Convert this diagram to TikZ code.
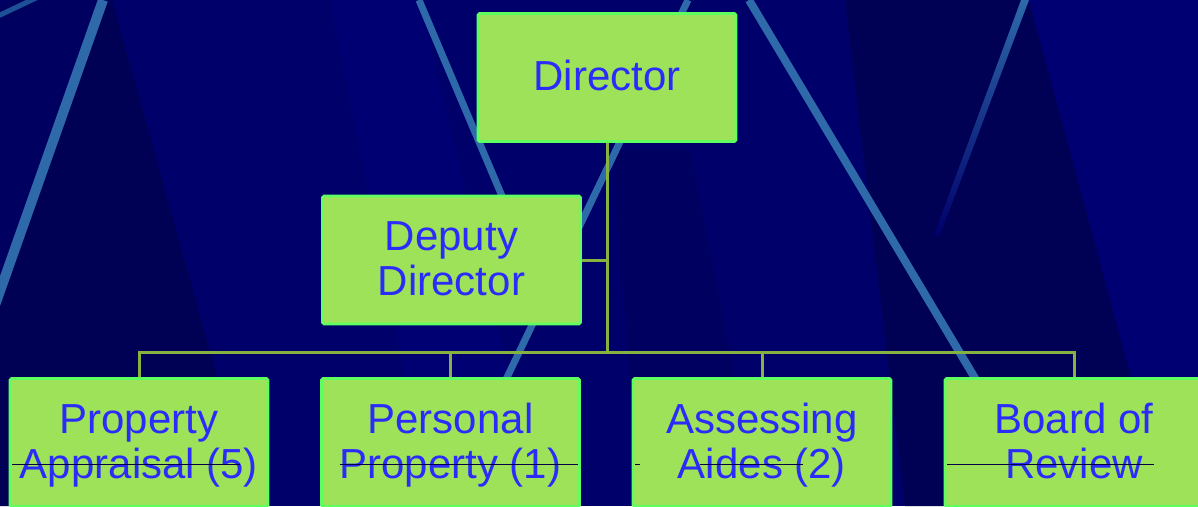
\documentclass[tikz,border=0pt]{standalone}
\usepackage{fontspec}
\setmainfont{Liberation Sans}
\definecolor{bgnavy}{RGB}{0,0,106}
\definecolor{bgdark}{RGB}{0,0,84}
\definecolor{bgmid}{RGB}{0,0,96}
\definecolor{bglight}{RGB}{0,0,114}
\definecolor{stripe}{RGB}{46,106,170}
\definecolor{stripefaint}{RGB}{30,80,150}
\definecolor{boxfill}{RGB}{158,226,90}
\definecolor{boxline}{RGB}{96,255,96}
\definecolor{txtblue}{RGB}{44,44,250}
\definecolor{connline}{RGB}{134,178,64}
\definecolor{strikeline}{RGB}{0,0,70}
\newcommand\tstrut{\rule{0pt}{35pt}}
\newcommand\bstrut{\rule[-9pt]{0pt}{9pt}}
\pgfdeclarelayer{art}
\pgfdeclarelayer{links}
\pgfdeclarelayer{over}
\pgfsetlayers{art,links,main,over}
\begin{document}
\begin{tikzpicture}[x=1pt,y=-1pt,
  orgbox/.style={draw=boxline, line width=2.8pt, fill=boxfill, text=txtblue,
    minimum width=258pt, minimum height=128pt, inner sep=0pt, align=center,
    font=\fontsize{42}{45}\selectfont, rounded corners=1.5pt},
  connector/.style={draw=connline, line width=3pt},
  stripeline/.style={draw=stripe, line width=7pt},
  strike/.style={draw=strikeline, line width=1pt}]
\useasboundingbox (0,0) rectangle (1198,506);
\clip (0,0) rectangle (1198,506);
\begin{pgfonlayer}{art}
  \fill[bgnavy] (0,0) rectangle (1198,506);
  \fill[bgmid] (0,0) -- (103,0) -- (0,292) -- cycle;
  \fill[bgdark] (108,0) -- (112,0) -- (253,506) -- (0,506) -- (0,292) -- cycle;
  \fill[bgdark] (845,0) -- (1029,0) -- (1166,506) -- (905,506) -- cycle;
  \fill[bglight] (1029,0) -- (1198,0) -- (1198,506) -- (1166,506) -- cycle;
  \fill[bglight] (330,0) -- (420,0) -- (540,506) -- (430,506) -- cycle;
  \fill[bgmid] (612,150) -- (690,150) -- (760,506) -- (640,506) -- cycle;
  % stripes
  \draw[stripeline, line width=10pt] (103,0) -- (-12,325);
  \draw[draw=stripefaint, line width=5pt] (-2,16) -- (36,-2);
  \draw[stripeline] (419,0) -- (510,215);
  \draw[stripeline] (688,0) -- (500,392);
  \draw[stripeline, line width=8pt] (749,0) -- (1000,420);
  \shade[top color=stripe, bottom color=bgnavy] (1021,0) -- (1029,0) -- (940,235) -- (934,235) -- cycle;
\end{pgfonlayer}

\node[orgbox] (dir) at (607,77.5) {\tstrut Director\bstrut};
\node[orgbox] (dep) at (451.5,260) {\tstrut Deputy\\Director\bstrut};
\node[orgbox] (b1) at (139,442.5) {\tstrut Property\\Appraisal (5)\bstrut};
\node[orgbox] (b2) at (450.5,442.5) {\tstrut Personal\\Property (1)\bstrut};
\node[orgbox] (b3) at (762,442.5) {\tstrut Assessing\\Aides (2)\bstrut};
\node[orgbox] (b4) at (1074,442.5) {\tstrut Board of\\Review\bstrut};

\coordinate (bus) at (607,352);
\begin{pgfonlayer}{links}
  \draw[connector] (dir.south) -- (bus);
  \draw[connector] (dep.east) -- (dep.east -| bus);
  \draw[connector] (b1.north) -- (b1.north |- bus) -- (b4.north |- bus) -- (b4.north);
  \draw[connector] (b2.north) -- (b2.north |- bus);
  \draw[connector] (b3.north) -- (b3.north |- bus);
\end{pgfonlayer}

\begin{pgfonlayer}{over}
  \draw[strike] (12,464) -- (240,464);
  \draw[strike] (340,464) -- (578,464);
  \draw[strike] (635,464) -- (640,464);
  \draw[strike] (700,464) -- (803,464);
  \draw[strike] (947,464) -- (1154,464);
\end{pgfonlayer}
\end{tikzpicture}
\end{document}
